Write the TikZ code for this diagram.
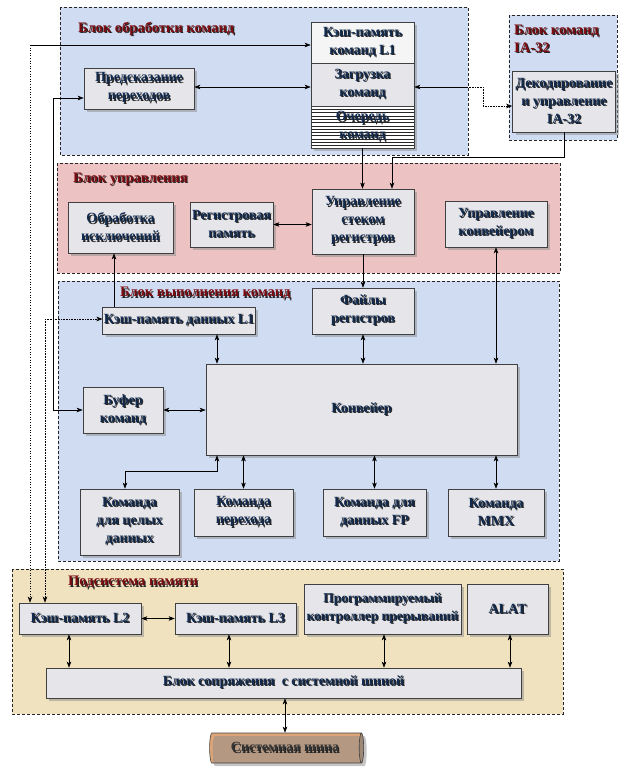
\documentclass[tikz,border=0pt]{standalone}
\usepackage{fontspec}
\setmainfont{Liberation Serif}
\usetikzlibrary{shapes.geometric,shadows,arrows.meta}
\definecolor{txtc}{RGB}{18,42,78}
\definecolor{ttlc}{RGB}{125,12,18}
\definecolor{bluebg}{RGB}{208,220,242}
\definecolor{pinkbg}{RGB}{236,194,194}
\definecolor{beigebg}{RGB}{240,226,190}
\definecolor{boxc}{RGB}{230,230,234}
\definecolor{cylc}{RGB}{222,166,120}
\newcommand\shtx[1]{\leavevmode\rlap{\kern1.2pt\raisebox{-1.2pt}{\color{black!85}#1}}#1}
\begin{document}
\begin{tikzpicture}[x=1pt,y=-1pt,
  grp/.style={draw=black!85,dash pattern=on 3pt off 2pt,line width=0.6pt},
  ttl/.style={font=\fontsize{14.5}{18}\selectfont\bfseries,text=ttlc,anchor=west,inner sep=0pt,align=left},
  box/.style={draw=black!75,line width=0.6pt,fill=boxc,
     drop shadow={shadow xshift=3pt,shadow yshift=-3pt,fill=black!45},
     font=\fontsize{14}{18}\selectfont\bfseries,text=txtc,align=center,inner sep=1pt},
  arr/.style={line width=0.6pt,-{Stealth[length=6pt,width=4.5pt,inset=1.5pt]}},
  arrs/.style={line width=0.6pt,{Stealth[length=6pt,width=4.5pt,inset=1.5pt]}-{Stealth[length=6pt,width=4.5pt,inset=1.5pt]}},
  hatch/.style={path picture={\foreach \k in {1,...,12}
     \draw[black!85,line width=0.5pt] ([yshift=-\k*3.3pt]path picture bounding box.north west) -- ([yshift=-\k*3.3pt]path picture bounding box.north east);}}
]
\useasboundingbox (0,0) rectangle (623,775);
% group frames
\draw[grp,fill=bluebg] (60,7) rectangle (468,155);
\draw[grp,fill=bluebg] (509,15) rectangle (617,140);
\draw[grp,fill=pinkbg] (57,163) rectangle (560,273);
\draw[grp,fill=bluebg] (58,281) rectangle (559,561);
\draw[grp,fill=beigebg] (12,569) rectangle (563,714);
% titles
\node[ttl] (t1) at (78,29) {\shtx{Блок обработки команд}};
\node[ttl] (t2) at (514,39) {\shtx{Блок команд}\\\shtx{IA-32}};
\node[ttl] (t3) at (73,180) {\shtx{Блок управления}};
\node[ttl] (t4) at (120,294) {\shtx{Блок выполнения команд}};
\node[ttl] (t5) at (68,583) {\shtx{Подсистема памяти}};
% boxes
\node[box,fill=white!92!gray,minimum width=103pt,minimum height=41pt] (l1i) at (362.5,42.5) {\shtx{Кэш-память}\\\shtx{команд L1}};
\node[box,minimum width=103pt,minimum height=43pt] (fetch) at (362.5,84.5) {\shtx{Загрузка}\\\shtx{команд}};
\node[box,fill=white,hatch,minimum width=103pt,minimum height=42pt] (queue) at (362.5,127) {\shtx{Очередь}\\\shtx{команд}};
\node[box,minimum width=110pt,minimum height=41pt] (bp) at (139,88.5) {\shtx{Предсказание}\\\shtx{переходов}};
\node[box,minimum width=103pt,minimum height=61pt] (dec) at (564,101.5) {\shtx{Декодирование}\\\shtx{и управление}\\\shtx{IA-32}};
\node[box,minimum width=105pt,minimum height=51pt] (exc) at (120.5,227.5) {\shtx{Обработка}\\\shtx{исключений}};
\node[box,minimum width=83pt,minimum height=45pt] (regmem) at (231.5,224.5) {\shtx{Регистровая}\\\shtx{память}};
\node[box,minimum width=102pt,minimum height=65pt] (rsc) at (363,221.5) {\shtx{Управление}\\\shtx{стеком}\\\shtx{регистров}};
\node[box,minimum width=102pt,minimum height=46pt] (pctl) at (496,224) {\shtx{Управление}\\\shtx{конвейером}};
\node[box,minimum width=152pt,minimum height=27pt] (l1d) at (179,320.5) {\shtx{Кэш-память данных L1}};
\node[box,minimum width=102pt,minimum height=46pt] (rf) at (363,311) {\shtx{Файлы}\\\shtx{регистров}};
\node[box,minimum width=311pt,minimum height=91pt] (pipe) at (361.5,409.5) {\shtx{Конвейер}};
\node[box,minimum width=80pt,minimum height=46pt] (buf) at (123,410) {\shtx{Буфер}\\\shtx{команд}};
\node[box,minimum width=99pt,minimum height=66pt] (intc) at (129.5,522) {\shtx{Команда}\\\shtx{для целых}\\\shtx{данных}};
\node[box,minimum width=99pt,minimum height=47pt] (brc) at (243.5,512.5) {\shtx{Команда}\\\shtx{перехода}};
\node[box,minimum width=103pt,minimum height=47pt] (fpc) at (374.5,512.5) {\shtx{Команда для}\\\shtx{данных FP}};
\node[box,minimum width=96pt,minimum height=47pt] (mmxc) at (496,512.5) {\shtx{Команда}\\\shtx{MMX}};
\node[box,minimum width=122pt,minimum height=31pt] (l2) at (80,618.5) {\shtx{Кэш-память L2}};
\node[box,minimum width=121pt,minimum height=31pt] (l3) at (235.5,618.5) {\shtx{Кэш-память L3}};
\node[box,font=\fontsize{13.5}{18}\selectfont\bfseries,inner sep=0.5pt,minimum width=157pt,minimum height=50pt] (pic) at (382.5,609) {\shtx{Программируемый}\\\shtx{контроллер\ прерываний}};
\node[box,minimum width=81pt,minimum height=50pt] (alat) at (507.5,609) {\shtx{ALAT}};
\node[box,minimum width=475pt,minimum height=30pt] (biu) at (283.5,683) {\shtx{Блок сопряжения\ \ с системной шиной}};
\node[cylinder,draw=black!75,line width=0.6pt,shape aspect=0.35,cylinder uses custom fill,
   cylinder body fill=cylc,cylinder end fill=cylc!80!black,
   drop shadow={shadow xshift=3pt,shadow yshift=-3pt,fill=black!45},
   minimum width=30pt,minimum height=154pt,inner sep=1pt,
   font=\fontsize{14}{18}\selectfont\bfseries,text=black!80] (bus) at (285,748) {\shtx{Системная шина}};
% helper coordinates
\coordinate (a30) at (30,45);
\coordinate (a45) at (45,319);
\coordinate (a53t) at (53,98);
\coordinate (a53b) at (53,410);
\coordinate (y87) at (0,87);
\coordinate (x467) at (467,0);
\coordinate (d1) at (483,87);
\coordinate (d2) at (483,106);
\coordinate (e1) at (392,157);
\coordinate (x114) at (114,0);
\coordinate (x217) at (217,0);
\coordinate (k1) at (217,471);
\coordinate (k2) at (125,471);
\coordinate (x69) at (69,0);
\coordinate (x229) at (229,0);
\coordinate (x384) at (384,0);
\coordinate (x510) at (510,0);
% connectors
\draw[arr] (a30) -- (a30 -| l1i.west);
\draw[arr,dotted] (a30) -- (a30 |- l2.north);
\draw[arr,densely dotted] (a45) -- (a45 -| l1d.west);
\draw[arr,densely dotted] (a45) -- (a45 |- l2.north);
\draw[arr] (a53t) -- (a53t -| bp.west);
\draw[arr] (a53t) -- (a53b) -- (a53b -| buf.west);
\draw[arrs] (bp.east |- y87) -- (fetch.west |- y87);
\draw[arr] (x467 |- y87) -- (fetch.east |- y87);
\draw[arr,densely dotted] (x467 |- y87) -- (d1) -- (d2) -- (d2 -| dec.west);
\draw[arr] (queue.south) -- (queue.south |- rsc.north);
\draw[arr] (dec.south) |- (e1) -- (e1 |- rsc.north);
\draw[arrs] (regmem.east) -- (regmem.east -| rsc.west);
\draw[arr] (x114 |- l1d.north) -- (x114 |- exc.south);
\draw[arr] (rsc.south) -- (rsc.south |- rf.north);
\draw[arrs] (pctl.south) -- (pctl.south |- pipe.north);
\draw[arrs] (x217 |- l1d.south) -- (x217 |- pipe.north);
\draw[arrs] (rf.south) -- (rf.south |- pipe.north);
\draw[arrs] (buf.east) -- (buf.east -| pipe.west);
\draw[arrs] (x217 |- pipe.south) -- (k1) -- (k2) -- (k2 |- intc.north);
\draw[arrs] (pipe.south -| brc.north) -- (brc.north);
\draw[arrs] (pipe.south -| fpc.north) -- (fpc.north);
\draw[arrs] (pipe.south -| mmxc.north) -- (mmxc.north);
\draw[arrs] (l2.east) -- (l3.west);
\draw[arrs] (x69 |- l2.south) -- (x69 |- biu.north);
\draw[arrs] (x229 |- l3.south) -- (x229 |- biu.north);
\draw[arrs] (x384 |- pic.south) -- (x384 |- biu.north);
\draw[arrs] (x510 |- alat.south) -- (x510 |- biu.north);
\draw[arrs] (biu.south -| bus.north) -- (bus.north);
\end{tikzpicture}
\end{document}
